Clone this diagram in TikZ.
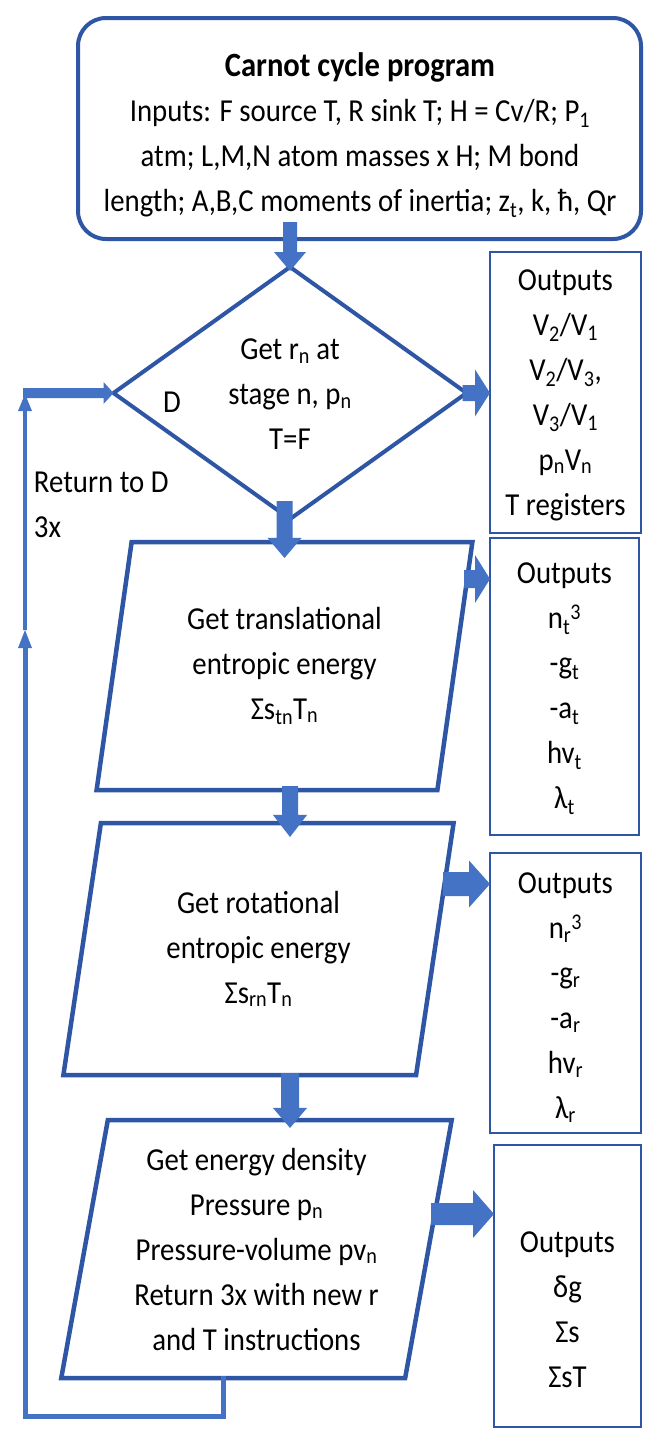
\documentclass[tikz,border=0pt]{standalone}
\usepackage{fontspec}
\setmainfont{Carlito}[FakeStretch=0.9]
\usetikzlibrary{shapes.geometric,calc}
\definecolor{dkblue}{RGB}{47,85,165}
\definecolor{ltblue}{RGB}{68,114,196}
% block arrows: #1 start, #2 tip, #3 shaft half width, #4 head half width, #5 head length
\newcommand\rblk[5]{\fill[blockarrow] ($(#1)+(0,-#3)$) -- ($(#2)+(-#5,-#3)$) -- ($(#2)+(-#5,-#4)$) -- (#2) -- ($(#2)+(-#5,#4)$) -- ($(#2)+(-#5,#3)$) -- ($(#1)+(0,#3)$) -- cycle;}
\newcommand\dblk[5]{\fill[blockarrow] ($(#1)+(-#3,0)$) -- ($(#2)+(-#3,-#5)$) -- ($(#2)+(-#4,-#5)$) -- (#2) -- ($(#2)+(#4,-#5)$) -- ($(#2)+(#3,-#5)$) -- ($(#1)+(#3,0)$) -- cycle;}
\newcommand\ublk[5]{\fill[blockarrow] ($(#1)+(-#3,0)$) -- ($(#2)+(-#3,#5)$) -- ($(#2)+(-#4,#5)$) -- (#2) -- ($(#2)+(#4,#5)$) -- ($(#2)+(#3,#5)$) -- ($(#1)+(#3,0)$) -- cycle;}
\begin{document}
\begin{tikzpicture}[x=1pt,y=-1pt,
  every node/.style={inner sep=0pt, outer sep=0pt},
  txt/.style={align=center, font=\fontsize{32}{45}\selectfont, text=black},
  topbox/.style={draw=dkblue, line width=4pt, rounded corners=28pt, minimum width=563pt, minimum height=221pt},
  dec/.style={draw=dkblue, line width=4pt, diamond, minimum width=353pt, minimum height=252pt},
  para/.style={draw=dkblue, line width=4.5pt, trapezium, trapezium left angle=79.3, trapezium right angle=100.7, trapezium stretches=true, align=center, font=\fontsize{32}{45}\selectfont},
  outbox/.style={draw=dkblue, line width=2.5pt, rectangle},
  blockarrow/.style={fill=ltblue},
  loopline/.style={draw=ltblue, line width=5pt},
]
\fill[white] (0,0) rectangle (659,1444);
\useasboundingbox (0,0) rectangle (659,1444);

% top box
\node[topbox] (T) at (359.5,128.5) {};
\node[txt] (Tt) at (360,135) {{\bfseries\fontsize{34}{45}\selectfont Carnot cycle program}\\
  Inputs: F source T, R sink T; H = Cv/R; P\textsubscript{1}\\
  atm; L,M,N atom masses x H; M bond\\
  length; A,B,C moments of inertia; z\textsubscript{t}, k, ħ, Qr};

% decision
\node[dec] (D) at (290,393) {};
\node[txt] (Dt) at (290,394) {Get r\textsubscript{n} at\\stage n, p\textsubscript{n}\\T=F};
\node[txt] (Dl) at (172,402) {D};

% parallelograms
\node[para, minimum width=377pt, minimum height=248pt] (P1) at (284.5,666)
  {Get translational\\entropic energy\\Σs\textsubscript{tn}T\textsubscript{n}};
\node[para, minimum width=391pt, minimum height=252pt] (P2) at (258.5,949)
  {Get rotational\\entropic energy\\Σs\textsubscript{rn}T\textsubscript{n}};
\node[para, minimum width=391pt, minimum height=258pt] (P3) at (256.5,1249)
  {Get energy density\\Pressure p\textsubscript{n}\\Pressure-volume pv\textsubscript{n}\\Return 3x with new r\\and T instructions};

% output boxes
\node[outbox, minimum width=151pt, minimum height=281pt] (O1) at (565.5,392.5) {};
\node[txt] (O1t) at (565.5,395) {Outputs\\V\textsubscript{2}/V\textsubscript{1}\\V\textsubscript{2}/V\textsubscript{3},\\V\textsubscript{3}/V\textsubscript{1}\\p\textsubscript{n}V\textsubscript{n}\\T registers};
\node[outbox, minimum width=149pt, minimum height=297pt] (O2) at (564.5,686.5) {};
\node[txt] (O2t) at (564.5,688.5) {Outputs\\n\textsubscript{t}\textsuperscript{3}\\-g\textsubscript{t}\\-a\textsubscript{t}\\hv\textsubscript{t}\\λ\textsubscript{t}};
\node[outbox, minimum width=151pt, minimum height=280pt] (O3) at (565.5,993) {};
\node[txt] (O3t) at (565.5,997.5) {Outputs\\n\textsubscript{r}\textsuperscript{3}\\-g\textsubscript{r}\\-a\textsubscript{r}\\hv\textsubscript{r}\\λ\textsubscript{r}};
\node[outbox, minimum width=147pt, minimum height=282pt] (O4) at (567.5,1286) {};
\node[txt] (O4t) at (567.5,1310) {Outputs\\δg\\Σs\\ΣsT};

% return label
\node[txt, align=left, anchor=west] (Rt) at (34,505) {Return to D\\3x};

% vertical block arrows
\coordinate (tA) at ([yshift=17pt]D.north |- T.south);
\coordinate (tB) at ([yshift=-4pt]D.north);
\dblk{tA}{tB}{7}{16}{19}
\coordinate (dA) at ([yshift=18pt]P1.north |- D.south);
\coordinate (dB) at ([yshift=-16pt]P1.north);
\dblk{dA}{dB}{8}{17}{20}
\coordinate (pA) at ([yshift=4pt]D.south |- P1.south);
\coordinate (pB) at ([yshift=-14pt]D.south |- P2.north);
\dblk{pA}{pB}{8}{17}{22}
\coordinate (qA) at ([yshift=2pt]D.south |- P2.south);
\coordinate (qB) at ([yshift=-8pt]D.south |- P3.north);
\dblk{qA}{qB}{9}{17}{20}

% horizontal block arrows
\coordinate (h0A) at ([xshift=-4pt]D.east);
\coordinate (h0B) at (O1.west |- D.east);
\rblk{h0A}{h0B}{8}{23.5}{15}
\coordinate (h1A) at (464,579);
\coordinate (h1B) at (h1A -| O2.west);
\rblk{h1A}{h1B}{9}{24}{15}
\coordinate (h2A) at (443,884);
\coordinate (h2B) at (h2A -| O3.west);
\rblk{h2A}{h2B}{12}{23.5}{21}
\coordinate (h3A) at (431,1214);
\coordinate (h3B) at (h3A -| O4.west);
\rblk{h3A}{h3B}{11}{24}{21}

% loop back to D
\coordinate (lp0) at ([xshift=162pt,yshift=2pt]P3.bottom left corner);
\coordinate (lpb) at (25,1416);
\coordinate (lpm) at (25,630);
\coordinate (lpmb) at (25,648);
\coordinate (ret) at (23,393);
\coordinate (rett) at (25,394);
\draw[loopline] (lp0) |- (lpb) -- (lpmb);
\ublk{lpmb}{lpm}{2.5}{7}{18}
\ublk{lpm}{rett}{1.8}{7}{17}
\rblk{ret}{D.west}{5}{11}{10}
\end{tikzpicture}
\end{document}
